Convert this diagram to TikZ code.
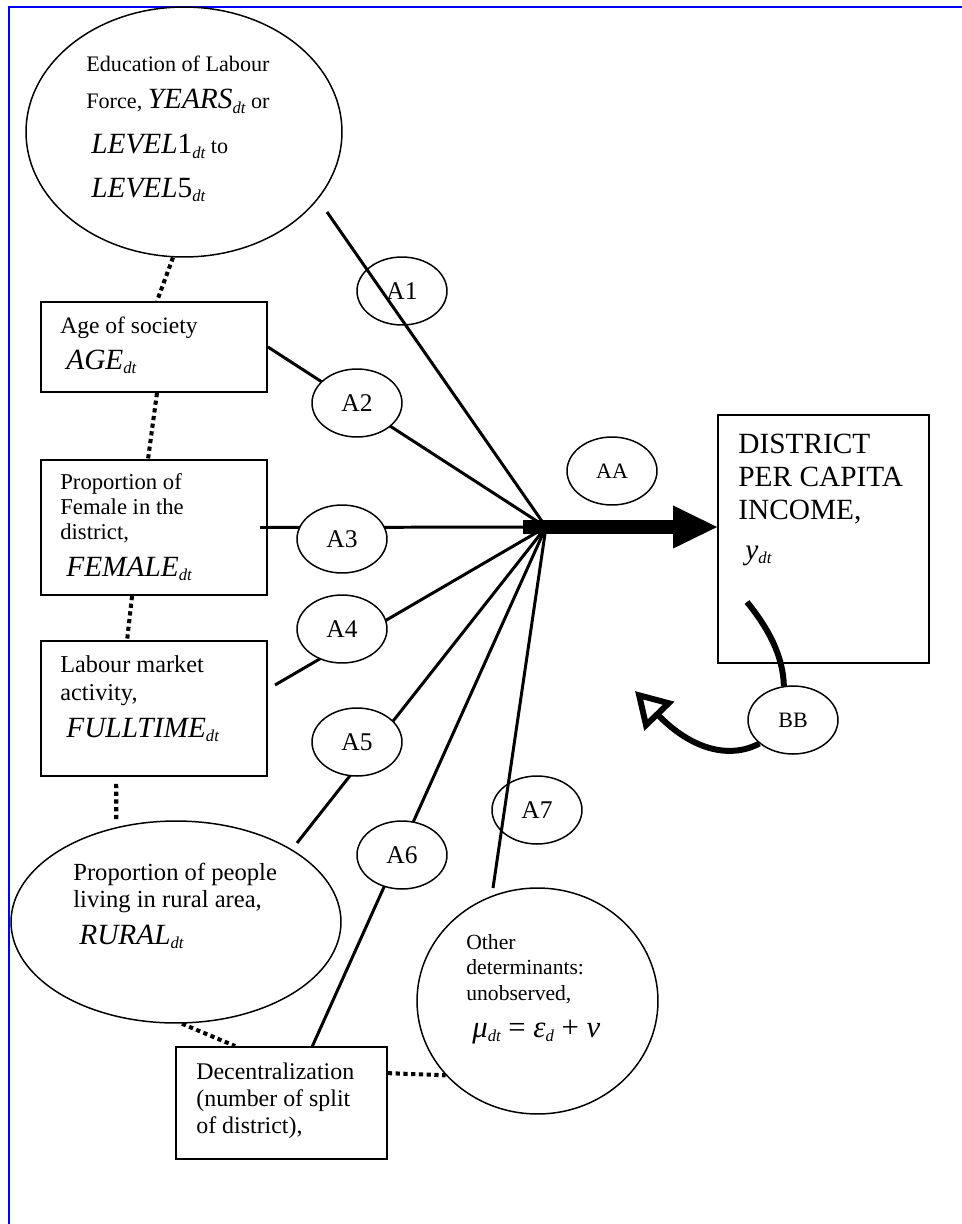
\documentclass[tikz,border=0pt]{standalone}
\usepackage{fontspec}
\setmainfont{Liberation Serif}
\usetikzlibrary{arrows.meta,shapes.geometric}
\newcommand{\fs}[2]{\fontsize{#1}{#2}\selectfont}
\newcommand{\vn}[1]{{\fontsize{16.7}{18}\selectfont\itshape #1}}
\newcommand{\vs}[1]{\raisebox{-2.8pt}{\fontsize{9.5}{10}\selectfont\itshape #1}}
\newcommand{\gk}[1]{{\fontsize{17.5}{20}\selectfont #1}}
\tikzset{
	box/.style={draw, rectangle, line width=1.1pt, inner sep=0pt},
	oval/.style={draw, ellipse, line width=0.85pt, inner sep=0pt},
	coef/.style={oval, minimum width=1.8cm, minimum height=1.36cm, font=\fs{14.5}{16}},
	txt/.style={anchor=base west, align=left, inner sep=0pt},
	effect/.style={line width=1.7pt},
	dotlink/.style={line width=2.3pt, dash pattern=on 2.4pt off 2pt},
	loopline/.style={line width=3.4pt},
	pageframe/.style={draw=blue, line width=1.2pt}
}

\begin{document}
\begin{tikzpicture}[x=0.02cm, y=-0.02cm]
			%%%%% START %%%%%
			\useasboundingbox (0,0) rectangle (962,1224);
			\draw[pageframe] (9,1224) -- (9,7) -- (962,7);
			
			\node[oval, minimum width=6.32cm, minimum height=5cm] (educ) at (184,132) {};
			\node[box, minimum width=4.52cm, minimum height=1.8cm] (age) at (154,347) {};
			\node[box, minimum width=4.52cm, minimum height=2.7cm] (female) at (154,527.5) {};
			\node[box, minimum width=4.52cm, minimum height=2.7cm] (labour) at (154,708.5) {};
			\node[oval, minimum width=6.6cm, minimum height=4.04cm] (rural) at (176,922) {};
			\node[box, minimum width=4.22cm, minimum height=2.24cm] (decen) at (281.5,1103) {};
			\node[oval, minimum width=4.82cm, minimum height=4.52cm] (other) at (537.5,1001) {};
			\node[box, minimum width=4.22cm, minimum height=4.96cm] (income) at (823.5,539) {};
			
			% texts sit on the baseline of their last line
			\node[txt, font=\fs{12.6}{14.5}] (eductxt) at (86,197) {Education of Labour\\[6.5pt]Force, \vn{YEARS}\vs{dt} or\\[11pt]\hspace*{2.8pt}\vn{LEVEL{\upshape 1}}\vs{dt} to\\[10.5pt]\hspace*{2.8pt}\vn{LEVEL{\upshape 5}}\vs{dt}};
			\node[txt, font=\fs{13.4}{15}] (agetxt) at (60,369) {Age of society\\[5.4pt]\hspace*{3.4pt}\vn{AGE}\vs{dt}};
			\node[txt, font=\fs{12.9}{14.3}] (femaletxt) at (60,576) {Proportion of\\Female in the\\district,\\[6.5pt]\hspace*{3.4pt}\vn{FEMALE}\vs{dt}};
			\node[txt, font=\fs{13.8}{15.9}] (labourtxt) at (60,737) {Labour market\\activity,\\[5pt]\hspace*{3.4pt}\vn{FULLTIME}\vs{dt}};
			\node[txt, font=\fs{14}{15.3}] (ruraltxt) at (73,944) {Proportion of people\\living in rural area,\\[5.7pt]\hspace*{3.4pt}\vn{RURAL}\vs{dt}};
			\node[txt, font=\fs{13.6}{15.3}] (decentxt) at (196,1133) {Decentralization\\(number of split\\of district),};
			\node[txt, font=\fs{12.3}{14.4}] (othertxt) at (466,1037) {Other\\determinants:\\unobserved,\\[6.6pt]\hspace*{3.4pt}\gk{\itshape μ}\vs{dt}\gk{ = \itshape ε}\vs{d}\gk{ + \itshape ν}};
			\node[txt, font=\fs{16.7}{18.7}] (incometxt) at (738,559) {DISTRICT\\PER CAPITA\\INCOME,\\[4pt]\hspace*{4pt}\vn{y}\vs{dt}};
			
			% paths into the hub
			\coordinate (hub) at (546,527);
			\coordinate (a1from) at (327,212);
			\coordinate (a4from) at (275,685);
			\coordinate (a5from) at (297,843);
			\coordinate (a6from) at (312,1047);
			\coordinate (a7from) at (493,888);
			\coordinate (shaft) at (523,527);
			
			\draw[effect] (a1from) -- (hub);
			\draw[effect] (age.east) -- (hub);
			\draw[effect] ([xshift=-4.5pt]female.east) -- (hub);
			\draw[effect] (a4from) -- (hub);
			\draw[effect] (a5from) -- (hub);
			\draw[effect] (a6from) -- (hub);
			\draw[effect] (a7from) -- (hub);
			\draw[line width=8.5pt, -{Triangle[length=25pt, width=24.5pt, line width=0pt]}] (shaft) -- (hub -| income.west);
			
			\node[coef] (a1) at (402,291) {A1};
			\node[coef, fill=white] (a2) at (357,403) {A2};
			\node[coef, fill=white] (a3) at (342,539) {A3};
			\node[coef, fill=white] (a4) at (342,629) {A4};
			\node[coef, fill=white] (a5) at (357,742) {A5};
			\node[coef, fill=white] (a6) at (402,855) {A6};
			\node[coef] (a7) at (537,810) {A7};
			\node[coef, font=\fs{12.5}{14}] (aa) at (612,471) {AA};
			\node[coef, fill=white, font=\fs{12.5}{14}] (bb) at (793,720) {BB};
			
			% feedback
			\coordinate (bbfrom) at (747,602);
			\coordinate (bbtip) at (635,691);
			\draw[loopline] (bbfrom) .. controls (768,628) and (783,655) .. (bb.105);
			\draw[loopline, -{Triangle[open, length=20pt, width=23pt]}] (bb.215) .. controls (728,760) and (690,748) .. (bbtip);
			
			% dotted links
			\draw[dotlink] (educ.265) -- ([xshift=1.7pt]age.north);
			\draw[dotlink] ([xshift=1.7pt]age.south) -- ([xshift=-3.4pt]female.north);
			\draw[dotlink] ([xshift=-12.5pt]female.south) -- ([xshift=-15.3pt]labour.north);
			\draw[dotlink] ([xshift=-21.5pt,yshift=-4pt]labour.south) -- ([xshift=-34pt]rural.north);
			\draw[dotlink] ([xshift=3.4pt]rural.south) -- ([xshift=-26.4pt]decen.north);
			\draw[dotlink] ([yshift=17pt]decen.east) -- (other.219);
			%%%%% END %%%%%
\end{tikzpicture}
\end{document}
